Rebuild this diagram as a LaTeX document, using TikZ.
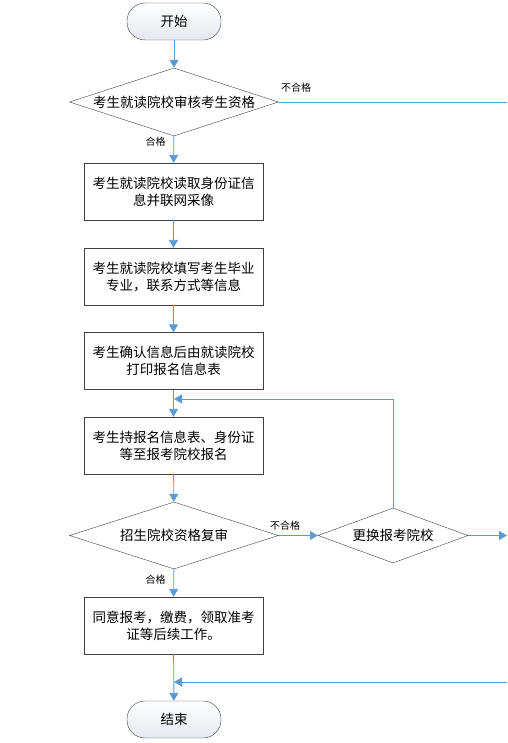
\documentclass[tikz,border=0pt]{standalone}
\usepackage{fontspec}
\newfontfamily\cjk{Noto Sans CJK SC}
\usetikzlibrary{arrows.meta,shapes.geometric}
\definecolor{flowblue}{HTML}{5B9BD5}
\definecolor{edge}{HTML}{404040}
\definecolor{termfill}{HTML}{E4E8EF}

\tikzset{
  txt/.style={font=\fontsize{13.5}{17}\selectfont\cjk,align=center},
  term/.style={draw=edge,rounded corners=18pt,minimum width=94pt,minimum height=37pt,top color=white,bottom color=termfill,txt},
  stepbox/.style={draw=edge,minimum width=179pt,minimum height=57pt,fill=white,txt},
  dia/.style={draw=edge,shape=diamond,inner sep=0pt,fill=white},
  flow/.style={draw=flowblue,line width=0.9pt,-{Triangle[length=8pt,width=9pt]}},
  link/.style={draw=flowblue,line width=0.9pt},
  tag/.style={font=\fontsize{10}{12}\selectfont\cjk,inner sep=1pt}
}

\begin{document}
\begin{tikzpicture}[x=1pt,y=-1pt]
\useasboundingbox (0,0) rectangle (507,743);

% nodes
\node[term] (start) at (174,21.5) {开始};
\node[dia,minimum width=209pt,minimum height=68pt,label={[txt]center:考生就读院校审核考生资格}] (check) at (174,102) {};
\node[stepbox] (read) at (173.5,191.5) {考生就读院校读取身份证信\\息并联网采像};
\node[stepbox] (fill) at (173.5,276.5) {考生就读院校填写考生毕业\\专业，联系方式等信息};
\node[stepbox] (print) at (173.5,361) {考生确认信息后由就读院校\\打印报名信息表};
\node[stepbox] (apply) at (173.5,445.5) {考生持报名信息表、身份证\\等至报考院校报名};
\node[dia,minimum width=209pt,minimum height=67pt,label={[txt]center:招生院校资格复审}] (review) at (174,535.5) {};
\node[dia,minimum width=150pt,minimum height=55pt,label={[txt]center:更换报考院校}] (change) at (393,535.5) {};
\node[stepbox] (agree) at (173.5,625.5) {同意报考，缴费，领取准考\\证等后续工作。};
\node[term] (stop) at (174,719.5) {结束};

\coordinate (loop) at (174,399);
\coordinate (outA) at (507,102);
\coordinate (outB) at (507,535.5);
\coordinate (back) at (507,682);
\coordinate (merge) at (174,682);

% connectors
\draw[flow] (start) -- (check);
\draw[link] (check.east) -- (outA);
\node[tag] (failA) at (296,88) {不合格};
\draw[flow] (check) -- (read);
\node[tag] (passA) at (155.5,142) {合格};
\draw[flow] (read) -- (fill);
\draw[flow] (fill) -- (print);
\draw[flow] (print) -- (apply);
\draw[flow] (apply) -- (review);
\draw[flow] (review) -- (change);
\node[tag] (failB) at (285,526) {不合格};
\draw[flow] (change.north) |- (loop);
\draw[flow] (change.east) -- (outB);
\draw[flow] (review) -- (agree);
\node[tag] (passB) at (155.5,580) {合格};
\draw[flow] (agree) -- (stop);
\draw[flow] (back) -- (merge);
\end{tikzpicture}
\end{document}
